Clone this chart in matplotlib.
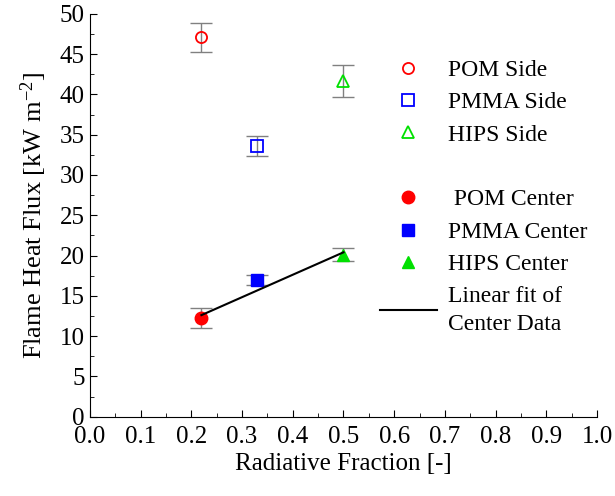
import numpy as np
import matplotlib.pyplot as plt
from matplotlib.lines import Line2D

plt.rcParams['font.family'] = ['Liberation Serif', 'DejaVu Serif']
plt.rcParams['mathtext.fontset'] = 'custom'
plt.rcParams['mathtext.rm'] = 'Liberation Serif'
plt.rcParams['mathtext.it'] = 'Liberation Serif:italic'

materials = ['POM', 'PMMA', 'HIPS']
colors = ['#ff0000', '#0000ff', '#00e000']
markers = ['o', 's', '^']
rad_frac = [0.22, 0.33, 0.50]
side_flux = [47.1, 33.6, 41.7]
side_err = [1.8, 1.3, 2.0]
center_flux = [12.2, 17.0, 20.1]
center_err = [1.25, 0.6, 0.8]
fit_x = [0.22, 0.50]
fit_y = [12.6, 20.4]

fig = plt.figure(figsize=(6.15, 4.96), dpi=100)
ax = fig.add_axes([0.146, 0.16, 0.825, 0.812])

for i in range(3):
    ax.errorbar(rad_frac[i], side_flux[i], yerr=side_err[i], fmt='none',
                ecolor='#808080', elinewidth=1, capsize=8, zorder=2)
    ax.plot(rad_frac[i], side_flux[i], marker=markers[i], ms=8, mfc='none',
            mec=colors[i], mew=1.3, ls='none', zorder=3)
    ax.errorbar(rad_frac[i], center_flux[i], yerr=center_err[i], fmt='none',
                ecolor='#808080', elinewidth=1, capsize=8, zorder=2)
    ax.plot(rad_frac[i], center_flux[i], marker=markers[i], ms=9, mfc=colors[i],
            mec=colors[i], ls='none', zorder=3)

ax.plot(fit_x, fit_y, color='black', lw=1.5, zorder=4)

ax.set_xlim(0, 1.0)
ax.set_ylim(0, 50)
ax.set_xticks(np.arange(0, 1.01, 0.1))
ax.set_xticks(np.arange(0, 1.01, 0.05), minor=True)
ax.set_yticks(np.arange(0, 51, 5))
ax.set_yticks(np.arange(0, 51, 2.5), minor=True)
ax.set_xticklabels([f'{v:.1f}' for v in np.arange(0, 1.01, 0.1)])
ax.tick_params(direction='in', which='both', labelsize=18)
ax.tick_params(axis='x', pad=7)
ax.tick_params(which='major', length=5)
ax.tick_params(which='minor', length=3)
for s in ['top', 'right']:
    ax.spines[s].set_visible(False)
ax.set_xlabel('Radiative Fraction [-]', fontsize=18, labelpad=3)
ax.set_ylabel('Flame Heat Flux [kW m$^{-2}$]', fontsize=19, labelpad=8)

handles = []
labels = []
for i in range(3):
    handles.append(Line2D([], [], marker=markers[i], ms=8, mfc='none',
                          mec=colors[i], mew=1.3, ls='none'))
    labels.append(f'{materials[i]} Side')
handles.append(Line2D([], [], ls='none'))
labels.append(' ')
for i in range(3):
    handles.append(Line2D([], [], marker=markers[i], ms=9, mfc=colors[i],
                          mec=colors[i], ls='none'))
    labels.append((' ' if i == 0 else '') + f'{materials[i]} Center')
handles.append(Line2D([], [], color='black', lw=1.5))
labels.append('Linear fit of\nCenter Data')

leg = ax.legend(handles, labels, loc='upper left', bbox_to_anchor=(0.53, 0.94),
                frameon=False, fontsize=17, handlelength=2.4, labelspacing=0.46,
                handletextpad=0.5)
leg.get_texts()[-1].set_linespacing(1.45)

fig.savefig('out.png', dpi=100)
